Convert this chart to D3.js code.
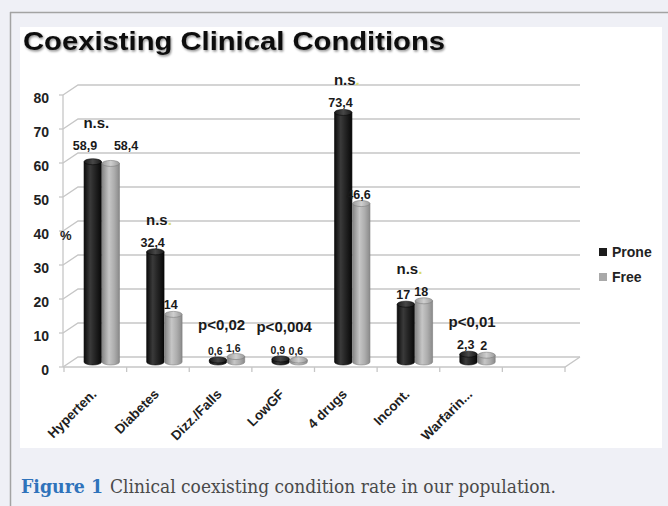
<!DOCTYPE html>
<html><head><meta charset="utf-8">
<script src="https://cdn.jsdelivr.net/npm/d3@7"></script>
<style>html,body{margin:0;padding:0;background:#eff0f6;} svg{display:block}</style>
</head><body>
<svg id="c" width="668" height="506"></svg>
<script>
// ---------- data ----------
const categories = ["Hyperten.", "Diabetes", "Dizz./Falls", "LowGF", "4 drugs", "Incont.", "Warfarin..."];
const seriesNames = ["Prone", "Free"];
const prone = [58.9, 32.4, 0.6, 0.9, 73.4, 17, 2.3];
const free = [58.4, 14, 1.6, 0.6, 46.6, 18, 2];
const significance = ["n.s.", "n.s.", "p<0,02", "p<0,004", "n.s.", "n.s.", "p<0,01"];
const yTicks = [0, 10, 20, 30, 40, 50, 60, 70, 80];
const titleText = "Coexisting Clinical Conditions";
const captionLead = "Figure 1";
const captionText = "Clinical coexisting condition rate in our population.";

// ---------- setup ----------
const W = 668, H = 506;
const FONT = "'Liberation Sans', Arial, sans-serif";
const svg = d3.select("#c");
const defs = svg.append("defs");

svg.append("rect").attr("width", W).attr("height", H).attr("fill", "#eff0f6");
svg.append("line").attr("x1", 10.5).attr("x2", 10.5).attr("y1", 12).attr("y2", H)
  .attr("stroke", "#a3a3a3").attr("stroke-width", 1.5);
svg.append("line").attr("x1", 10).attr("x2", W).attr("y1", 12.5).attr("y2", 12.5)
  .attr("stroke", "#a3a3a3").attr("stroke-width", 1.5);
svg.append("rect").attr("x", 20).attr("y", 27).attr("width", 642).attr("height", 421).attr("fill", "#fff");

// gradients
function hGrad(id, stops) {
  const g = defs.append("linearGradient").attr("id", id).attr("x1", 0).attr("x2", 1).attr("y1", 0).attr("y2", 0);
  stops.forEach(s => g.append("stop").attr("offset", s[0]).attr("stop-color", s[1]));
}
hGrad("gProne", [[0, "#0c0c0c"], [0.35, "#3a3a3a"], [0.6, "#262626"], [1, "#080808"]]);
hGrad("gFree", [[0, "#858585"], [0.4, "#c6c6c6"], [0.7, "#adadad"], [1, "#8a8a8a"]]);
hGrad("gProneTop", [[0, "#1a1a1a"], [0.5, "#474747"], [1, "#1a1a1a"]]);
hGrad("gFreeTop", [[0, "#9a9a9a"], [0.5, "#cfcfcf"], [1, "#9a9a9a"]]);
const sh = defs.append("filter").attr("id", "tshadow").attr("x", "-5%").attr("y", "-20%").attr("width", "110%").attr("height", "150%");
sh.append("feDropShadow").attr("dx", 1).attr("dy", 1.5).attr("stdDeviation", 1.2).attr("flood-color", "#000").attr("flood-opacity", 0.45);

// ---------- scales ----------
const x0 = d3.scaleBand().domain(d3.range(categories.length + 1)).range([64, 565]);
const bw = x0.bandwidth();
const x1 = d3.scaleBand().domain(seriesNames).range([bw * 0.32, bw * 0.895]);
const yFront = d3.scaleLinear().domain([0, 80]).range([367, 95]);
const DX = 15, DY = -10;
const yBack = v => yFront(v) + DY;
const yBar = v => yFront(v) + DY / 2;

// ---------- walls / grid ----------
const grid = svg.append("g").attr("stroke", "#c6c6c6").attr("stroke-width", 1.3).attr("fill", "none");
yTicks.forEach(v => {
  grid.append("path").attr("d", `M63,${yFront(v)} L${63 + DX},${yBack(v)} L${565 + DX},${yBack(v)}`);
});
grid.append("line").attr("x1", 63).attr("x2", 63).attr("y1", yFront(80)).attr("y2", yFront(0));
yTicks.forEach(v => grid.append("line").attr("x1", 59).attr("x2", 63).attr("y1", yFront(v)).attr("y2", yFront(v)));
grid.append("path").attr("d", `M63,${yFront(0)} L565,${yFront(0)} L${565 + DX},${yBack(0)}`);
d3.range(categories.length + 2).forEach(i => {
  const xx = 64 + i * bw;
  grid.append("line").attr("x1", xx).attr("x2", xx).attr("y1", yFront(0)).attr("y2", yFront(0) + 5);
});

// ---------- axes ----------
const gy = svg.append("g").attr("transform", "translate(49,0)")
  .call(d3.axisLeft(yFront).tickValues(yTicks).tickSize(0).tickPadding(0).tickFormat(d3.format("d")));
gy.select(".domain").remove();
gy.selectAll("text").attr("font-family", FONT).attr("font-size", 14).attr("font-weight", "bold")
  .attr("fill", "#222").attr("dy", "0.55em");

svg.append("text").attr("x", 60).attr("y", yFront(40) + 9).attr("font-family", FONT)
  .attr("font-size", 13).attr("font-weight", "bold").attr("fill", "#222").text("%");

const gx = svg.append("g")
  .call(d3.axisBottom(x0).tickSize(0).tickFormat(i => categories[i] || ""));
gx.select(".domain").remove();
gx.selectAll("text").attr("font-family", FONT).attr("font-size", 13.5).attr("font-weight", "bold")
  .attr("fill", "#1e1e1e").attr("text-anchor", "end").attr("y", 0).attr("dy", 0)
  .attr("transform", "translate(2,395) rotate(-45)");

// ---------- bars (cylinders) ----------
const rows = categories.map((c, i) => ({ i, c, vals: [prone[i], free[i]] }));
const ry = 3;
const bars = svg.append("g");
rows.forEach(r => {
  r.vals.forEach((v, s) => {
    const name = seriesNames[s];
    const x = x0(r.i) + x1(name);
    const w = x1.bandwidth() - 0.6;
    const top = yBar(v), base = yBar(0);
    const body = s === 0 ? "url(#gProne)" : "url(#gFree)";
    const cap = s === 0 ? "url(#gProneTop)" : "url(#gFreeTop)";
    const edge = s === 0 ? "#050505" : "#7c7c7c";
    bars.append("path")
      .attr("d", `M${x},${top} L${x},${base} A${w / 2},${ry} 0 0 0 ${x + w},${base} L${x + w},${top} Z`)
      .attr("fill", body).attr("stroke", edge).attr("stroke-width", 0.6);
    bars.append("ellipse").attr("cx", x + w / 2).attr("cy", top).attr("rx", w / 2).attr("ry", ry)
      .attr("fill", cap).attr("stroke", edge).attr("stroke-width", 0.6);
  });
});

// ---------- value labels ----------
const fmt = v => String(v).replace(".", ",");
const labels = svg.append("g").attr("font-family", FONT).attr("font-weight", "bold").attr("fill", "#1a1a1a")
  .attr("text-anchor", "middle");
const annotBase = [];
rows.forEach(r => {
  const info = r.vals.map((v, s) => {
    const name = seriesNames[s];
    const cx = x0(r.i) + x1(name) + x1.bandwidth() / 2 - 3;
    const small = v < 2;
    const fs = small ? 10.5 : 12.5;
    const wEst = fmt(v).length * fs * 0.5;
    return { v, cx, y: yBar(v) - 5, fs, wEst };
  });
  const [a, b] = info;
  const hOverlap = a.cx + a.wEst / 2 > b.cx - b.wEst / 2 + 4;
  const vOverlap = Math.abs(a.y - b.y) < 14;
  if (hOverlap && vOverlap && a.v >= 2) {
    a.cx -= 5; b.cx += 18; a.y -= 7; b.y = a.y;
  }
  info.forEach(d => {
    labels.append("text").attr("x", d.cx).attr("y", d.y).attr("font-size", d.fs).text(fmt(d.v));
  });
  annotBase.push(Math.min(a.y, b.y) - 22);
});

// ---------- significance annotations ----------
const ann = svg.append("g").attr("font-family", FONT).attr("font-weight", "bold").attr("fill", "#1a1a1a")
  .attr("font-size", 15).attr("text-anchor", "middle");
rows.forEach(r => {
  const t = ann.append("text").attr("x", x0(r.i) + bw / 2 + 1).attr("y", annotBase[r.i]);
  const txt = significance[r.i];
  if (txt.startsWith("n.s") && r.i > 0) {
    t.append("tspan").text(txt.slice(0, -1));
    t.append("tspan").attr("fill", "#dcdc6a").text(txt.slice(-1));
  } else t.text(txt);
});

// ---------- legend ----------
const lg = svg.append("g");
seriesNames.forEach((n, s) => {
  lg.append("rect").attr("x", 599).attr("y", 248 + s * 25).attr("width", 8).attr("height", 8)
    .attr("fill", s === 0 ? "#1c1c1c" : "#a9a9a9");
  lg.append("text").attr("x", 612).attr("y", 257 + s * 25).attr("font-family", FONT).attr("font-size", 14)
    .attr("font-weight", "bold").attr("fill", "#222").text(n);
});

// ---------- title ----------
svg.append("text").attr("x", 23).attr("y", 50).attr("font-family", FONT).attr("font-size", 26.5)
  .attr("font-weight", "bold").attr("fill", "#111").attr("textLength", 422).attr("lengthAdjust", "spacingAndGlyphs")
  .attr("filter", "url(#tshadow)").text(titleText);

// ---------- caption ----------
const SERIF = "'DejaVu Serif', 'Liberation Serif', serif";
svg.append("text").attr("x", 21).attr("y", 493).attr("font-family", SERIF).attr("font-size", 19)
  .attr("font-weight", "bold").attr("fill", "#2f73bb").attr("textLength", 82).attr("lengthAdjust", "spacingAndGlyphs")
  .text(captionLead);
svg.append("text").attr("x", 110).attr("y", 493).attr("font-family", SERIF).attr("font-size", 19)
  .attr("fill", "#4a4a4a").attr("textLength", 446).attr("lengthAdjust", "spacingAndGlyphs")
  .text(captionText);
</script>
</body></html>
